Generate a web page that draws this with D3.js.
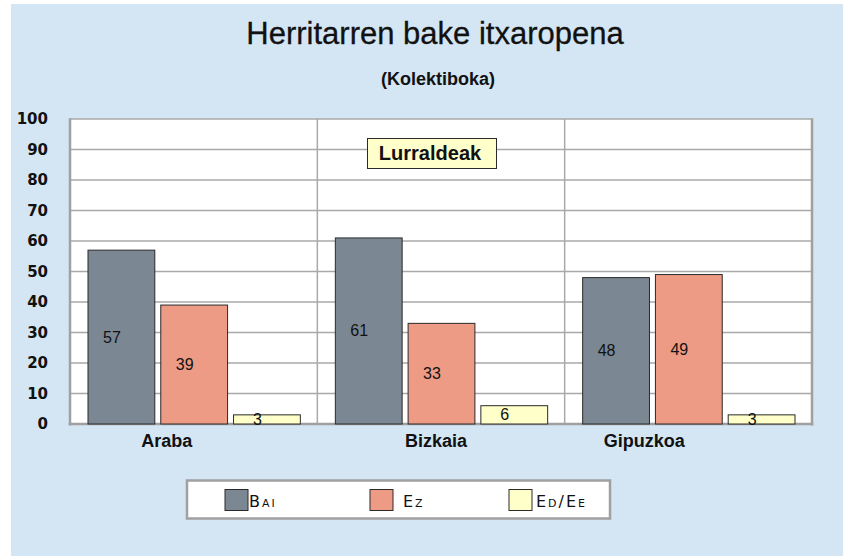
<!DOCTYPE html>
<html>
<head>
<meta charset="utf-8">
<script src="https://cdn.jsdelivr.net/npm/d3@7/dist/d3.min.js"></script>
<style>
  html, body { margin: 0; padding: 0; background: #ffffff; }
  svg { display: block; }
</style>
</head>
<body>
<script>
// Herritarren bake itxaropena — grouped bars per lurralde
const categories = ["Araba", "Bizkaia", "Gipuzkoa"];
const seriesNames = ["Bai", "Ez", "Ed/Ee"];
const bai = [57, 61, 48];
const ez = [39, 33, 49];
const edEe = [3, 6, 3];
const yTicks = [0, 10, 20, 30, 40, 50, 60, 70, 80, 90, 100];

const seriesValues = [bai, ez, edEe];
const colors = ["#7b8893", "#ee9b85", "#ffffc9"];

const W = 843, H = 556;
const plot = { left: 70, right: 812, top: 119, bottom: 424 };

const svg = d3.select("body").append("svg")
  .attr("width", W).attr("height", H);

// page background
svg.append("rect").attr("x", 11).attr("y", 4).attr("width", W - 11).attr("height", H - 4)
  .attr("fill", "#d4e6f4");

// titles
svg.append("text").attr("x", 435).attr("y", 44)
  .attr("text-anchor", "middle")
  .style("font-family", "'Liberation Sans', Arial, sans-serif")
  .style("font-size", "31px").attr("fill", "#111")
  .attr("stroke", "#111").attr("stroke-width", 0.3)
  .text("Herritarren bake itxaropena");
svg.append("text").attr("x", 438).attr("y", 85)
  .attr("text-anchor", "middle")
  .style("font-family", "'Liberation Sans', Arial, sans-serif")
  .style("font-size", "18px").style("font-weight", "bold").attr("fill", "#111")
  .text("(Kolektiboka)");

// scales
const x0 = d3.scaleBand().domain(categories).range([plot.left, plot.right]).padding(0);
const x1 = d3.scaleBand().domain(seriesNames)
  .range([18, x0.bandwidth() - 17]).paddingInner(0.082).paddingOuter(0);
const y = d3.scaleLinear().domain([0, 100]).range([plot.bottom, plot.top]);

// plot area
svg.append("rect").attr("x", plot.left).attr("y", plot.top)
  .attr("width", plot.right - plot.left).attr("height", plot.bottom - plot.top)
  .attr("fill", "#ffffff");

// horizontal gridlines
svg.append("g").selectAll("line").data(yTicks.filter(d => d > 0)).join("line")
  .attr("x1", plot.left).attr("x2", plot.right)
  .attr("y1", d => y(d)).attr("y2", d => y(d))
  .attr("stroke", "#a9a9a9").attr("stroke-width", 1.5);

// category separators
svg.append("g").selectAll("line").data(categories.slice(1)).join("line")
  .attr("x1", d => x0(d)).attr("x2", d => x0(d))
  .attr("y1", plot.top).attr("y2", plot.bottom)
  .attr("stroke", "#a9a9a9").attr("stroke-width", 1.5);

// frame: heavier left, right and floor edges
const frame = svg.append("g").attr("stroke", "#a0a0a0").attr("fill", "none");
frame.append("line").attr("x1", plot.left).attr("x2", plot.left)
  .attr("y1", plot.top - 0.75).attr("y2", plot.bottom + 1.5).attr("stroke-width", 2.5);
frame.append("line").attr("x1", plot.right).attr("x2", plot.right)
  .attr("y1", plot.top - 0.75).attr("y2", plot.bottom + 1.5).attr("stroke-width", 2.5);
frame.append("line").attr("x1", plot.left - 1.25).attr("x2", plot.right + 1.25)
  .attr("y1", plot.bottom).attr("y2", plot.bottom).attr("stroke-width", 2.5);

// y axis labels
const yAxis = d3.axisLeft(y).tickValues(yTicks).tickSize(0).tickPadding(22);
const gy = svg.append("g").attr("transform", `translate(${plot.left},0)`).call(yAxis);
gy.select(".domain").remove();
gy.selectAll("text")
  .style("font-family", "'DejaVu Sans', sans-serif")
  .style("font-size", "15px").style("font-weight", "bold").attr("fill", "#111");

// bars
const rows = categories.map((c, i) => ({
  cat: c,
  vals: seriesNames.map((s, j) => ({ s, j, v: seriesValues[j][i] }))
}));

const groups = svg.append("g").selectAll("g").data(rows).join("g")
  .attr("transform", d => `translate(${x0(d.cat)},0)`);

groups.selectAll("rect").data(d => d.vals).join("rect")
  .attr("x", d => x1(d.s))
  .attr("y", d => y(d.v))
  .attr("width", x1.bandwidth())
  .attr("height", d => y(0) - y(d.v))
  .attr("fill", d => colors[d.j])
  .attr("stroke", "#2a2a2a").attr("stroke-width", 1);

groups.selectAll("text").data(d => d.vals).join("text")
  .attr("x", d => x1(d.s) + x1.bandwidth() / 2 - 9.5)
  .attr("y", d => (y(d.v) + y(0)) / 2)
  .attr("text-anchor", "middle").attr("dominant-baseline", "central")
  .style("font-family", "'Liberation Sans', Arial, sans-serif")
  .style("font-size", "16px").attr("fill", "#111")
  .text(d => d.v);

// category labels
const labelNudge = [-27, -5, -44];
svg.append("g").selectAll("text").data(categories).join("text")
  .attr("x", (d, i) => x0(d) + x0.bandwidth() / 2 + labelNudge[i])
  .attr("y", 447)
  .attr("text-anchor", "middle")
  .style("font-family", "'Liberation Sans', Arial, sans-serif")
  .style("font-size", "18px").style("font-weight", "bold").attr("fill", "#111")
  .text(d => d);

// "Lurraldeak" tag
svg.append("rect").attr("x", 367.5).attr("y", 138.5).attr("width", 129).attr("height", 30)
  .attr("fill", "#ffffcc").attr("stroke", "#2a2a2a").attr("stroke-width", 1);
svg.append("text").attr("x", 430).attr("y", 160)
  .attr("text-anchor", "middle")
  .style("font-family", "'Liberation Sans', Arial, sans-serif")
  .style("font-size", "20px").style("font-weight", "bold").attr("fill", "#111")
  .text("Lurraldeak");

// legend
const legend = svg.append("g");
legend.append("rect").attr("x", 187).attr("y", 480.5).attr("width", 423).attr("height", 38)
  .attr("fill", "#ffffff").attr("stroke", "#a0a0a0").attr("stroke-width", 2.5);
const legendX = [225, 370, 509];
const legendTextX = [249, 403, 536];
const items = legend.selectAll("g").data(seriesNames).join("g");
items.append("rect")
  .attr("x", (d, i) => legendX[i]).attr("y", 489.5)
  .attr("width", 23).attr("height", 21)
  .attr("fill", (d, i) => colors[i]).attr("stroke", "#2a2a2a").attr("stroke-width", 1);
items.append("text")
  .attr("x", (d, i) => legendTextX[i]).attr("y", 507)
  .style("font-family", "'DejaVu Sans', sans-serif")
  .style("font-size", "16px").style("font-variant", "small-caps")
  .style("letter-spacing", "2px").attr("fill", "#111")
  .text(d => d);
</script>
</body>
</html>
